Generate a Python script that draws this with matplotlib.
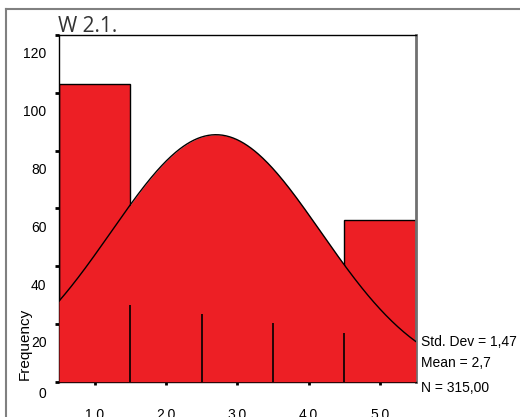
import matplotlib
matplotlib.use('Agg')
import matplotlib.pyplot as plt
import matplotlib.transforms as mtransforms
from matplotlib.lines import Line2D
import numpy as np

plt.rcParams['font.family'] = ['Liberation Sans', 'DejaVu Sans']

# histogram data (bins of width 1 centred on 1..5)
bin_centers = [1, 2, 3, 4, 5]
bar_heights = [103, None, None, None, 56]   # only the outer bars show above the curve
edge_positions = [1.5, 2.5, 3.5, 4.5]
edge_heights = [26.7, 23.5, 20.3, 17.0]

std_dev = 1.47
mean = 2.7
n_cases = 315

y_ticks = [0, 20, 40, 60, 80, 100, 120]
x_ticks = [1.0, 2.0, 3.0, 4.0, 5.0]

red = '#ed1f25'

fig = plt.figure(figsize=(5.2, 4.17), dpi=100)
ax = fig.add_axes([59 / 520, 1 - 381.7 / 417, (415.7 - 59) / 520, (381.7 - 35) / 417])

# outer bars
for x, h in zip(bin_centers, bar_heights):
    if h is not None:
        ax.bar(x, h, width=1.0, color=red, edgecolor='black', linewidth=1, zorder=2)

# normal curve from the summary statistics, filled
xs = np.linspace(0.5, 5.5, 300)
ys = n_cases * 1.0 / (std_dev * np.sqrt(2 * np.pi)) * np.exp(-(xs - mean) ** 2 / (2 * std_dev ** 2))
ax.fill_between(xs, 0, ys, color=red, linewidth=0, zorder=3)
ax.plot(xs, ys, color='black', linewidth=1, zorder=4)

# bin edges
ax.vlines(edge_positions, 0, edge_heights, color='black', linewidth=1.2, zorder=4)

ax.set_xlim(0.5, 5.5)
ax.set_ylim(0, 120)

ax.set_yticks(y_ticks)
ax.set_yticklabels([str(v) for v in y_ticks])
ax.set_xticks(x_ticks)
ax.set_xticklabels([f'{v:.1f}' for v in x_ticks])
ax.tick_params(axis='y', direction='out', length=3, width=2, pad=6, labelsize=10, colors='black')
ax.tick_params(axis='x', direction='out', length=2, width=2, pad=17, labelsize=10, colors='black')

# SPSS puts the y labels below their tick marks
for v, lab in zip(y_ticks, ax.get_yticklabels()):
    dy = -11 if v == 0 else -18
    lab.set_transform(lab.get_transform() + mtransforms.ScaledTranslation(0, dy / 100, fig.dpi_scale_trans))

for side in ['top', 'left', 'bottom']:
    ax.spines[side].set_color('black')
    ax.spines[side].set_linewidth(1)
ax.spines['right'].set_color('#707070')
ax.spines['right'].set_linewidth(2)

fig.text(25 / 520, 1 - 344 / 417, 'Frequency', rotation=90, ha='center', va='center', fontsize=11)

fig.text(58 / 520, 1 - 32 / 417, 'W 2.1.', ha='left', va='baseline', fontsize=15,
         color='#333333', family=['Open Sans', 'DejaVu Sans'])

# decimal comma, as in the original output
stats = ['Std. Dev = ' + f'{std_dev:.2f}'.replace('.', ','),
         'Mean = ' + f'{mean:.1f}'.replace('.', ','),
         'N = ' + f'{n_cases:.2f}'.replace('.', ',')]
for txt, y in zip(stats, [341.7, 363.3, 388.3]):
    fig.text(421 / 520, 1 - y / 417, txt, ha='left', va='center', fontsize=10)

# outer frame of the output viewer
fig.add_artist(Line2D([6 / 520, 6 / 520], [0, 1 - 9 / 417], color='#808080', linewidth=1.5))
fig.add_artist(Line2D([6 / 520, 1], [1 - 9 / 417, 1 - 9 / 417], color='#808080', linewidth=1.5))

fig.savefig('out.png', dpi=100)
